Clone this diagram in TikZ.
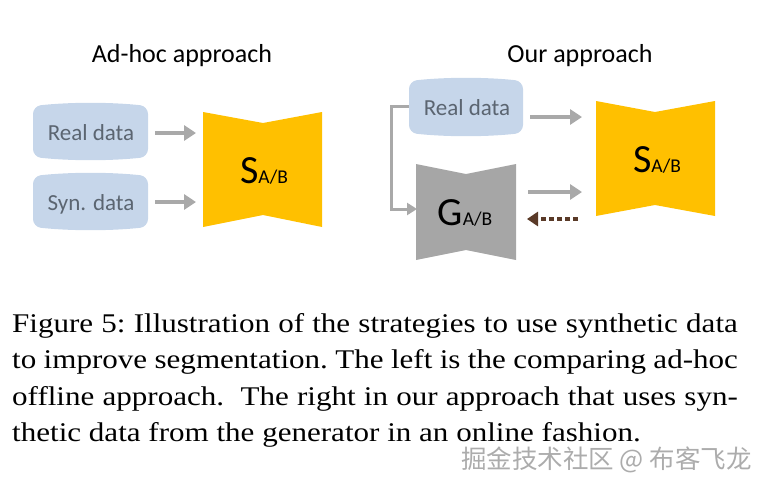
\documentclass[tikz,border=0pt]{standalone}
\usepackage{fontspec}
\setmainfont{Liberation Serif}
\newfontfamily\calib{Carlito}
\newfontfamily\cjkf{Noto Sans CJK SC}
\usetikzlibrary{arrows.meta}
\definecolor{sgyellow}{HTML}{FFC000}
\definecolor{ggray}{HTML}{A6A6A6}
\definecolor{argray}{HTML}{A9A9A9}
\definecolor{dblue}{HTML}{C6D6EA}
\definecolor{dtext}{HTML}{5B6571}
\definecolor{brownar}{HTML}{5A3A28}
\newcommand\dbox[4]{% x1 y1 x2 y2
  \fill[dblue,rounded corners=8pt] (#1,#2+3) .. controls ({#1+(#3-#1)/3},#2-1) and ({#3-(#3-#1)/3},#2-1) .. (#3,#2+3) -- (#3,#4-3) .. controls ({#3-(#3-#1)/3},#4+1) and ({#1+(#3-#1)/3},#4+1) .. (#1,#4-3) -- cycle;}
\tikzset{
  ttl/.style={font=\calib\fontsize{26}{30}\selectfont, text=black, inner sep=0pt, anchor=base},
  dlabel/.style={font=\calib\fontsize{23}{26}\selectfont, text=dtext, inner sep=0pt, anchor=base},
  netlabel/.style={font=\calib, text=black, inner sep=0pt, anchor=base},
  flow/.style={draw=argray, line width=4.5pt, -{Triangle[length=12pt,width=15pt]}},
  fb/.style={draw=brownar, line width=3.5pt, dash pattern=on 5pt off 3pt, -{Triangle[length=11pt,width=14pt]}},
  side/.style={draw=argray, line width=3pt, -{Triangle[length=10pt,width=12pt]}},
}
\newcommand\netname[1]{{\fontsize{40}{40}\selectfont #1}{\fontsize{19.5}{19.5}\selectfont A/B}}
\begin{document}
\begin{tikzpicture}[x=1pt,y=-1pt]
\useasboundingbox (0,0) rectangle (769,490);
% titles
\node[ttl] (t1) at (182,62) {Ad-hoc approach};
\node[ttl] (t2) at (580,62) {Our approach};
% left panel
\dbox{33}{103}{148}{160}
\dbox{33}{173}{148}{230}
\node[dlabel] (real1) at (91,140) {Real data};
\node[dlabel] (syn1) at (91,210) {Syn. data};
\fill[sgyellow] (203,112) -- (263,123) -- (322,112) -- (322,227) -- (263,215) -- (203,227) -- cycle;
\node[netlabel] (s1) at (264,183) {\netname{S}};
\coordinate (a1s) at (155,133);
\coordinate (a1e) at (196,133);
\coordinate (a2s) at (155,202);
\coordinate (a2e) at (196,202);
\draw[flow] (a1s) -- (a1e);
\draw[flow] (a2s) -- (a2e);
% right panel
\dbox{409}{78}{523}{136}
\node[dlabel] (real2) at (467,115) {Real data};
\fill[sgyellow] (596,101) -- (655,112) -- (715,101) -- (715,216) -- (655,205) -- (596,216) -- cycle;
\node[netlabel] (s2) at (657,172) {\netname{S}};
\fill[ggray] (416,164) -- (466,174) -- (516,164) -- (516,260) -- (466,250) -- (416,260) -- cycle;
\node[netlabel] (g2) at (465,225) {\netname{G}};
\coordinate (b1s) at (530,117);
\coordinate (b1e) at (582,117);
\coordinate (b2s) at (528,192);
\coordinate (b2e) at (582,192);
\coordinate (b3s) at (578,219);
\coordinate (b3e) at (527,219);
\coordinate (rl) at (409,106);
\coordinate (gl) at (417,209);
\draw[flow] (b1s) -- (b1e);
\draw[flow] (b2s) -- (b2e);
\draw[fb] (b3s) -- (b3e);
\draw[side] (rl) -- (391,106) -- (391,209) -- (gl);
% caption
\node[anchor=base west, inner sep=0pt] (cap) at (12,332) {\scalebox{1.15}[1]{\parbox[t]{631pt}{\frenchspacing\fontsize{27}{36.5}\selectfont
Figure 5: Illustration of the strategies to use synthetic data\linebreak
to improve segmentation. The left is the comparing ad-hoc\linebreak
offline approach.\ \ The right in our approach that uses syn-\linebreak
thetic data from the generator in an online fashion.}}};
% watermark
\node[anchor=base east, inner sep=0pt, text=gray!65, font=\cjkf\fontsize{25.5}{28}\selectfont] (wm) at (752,468) {掘金技术社区 @ 布客飞龙};
\end{tikzpicture}
\end{document}
